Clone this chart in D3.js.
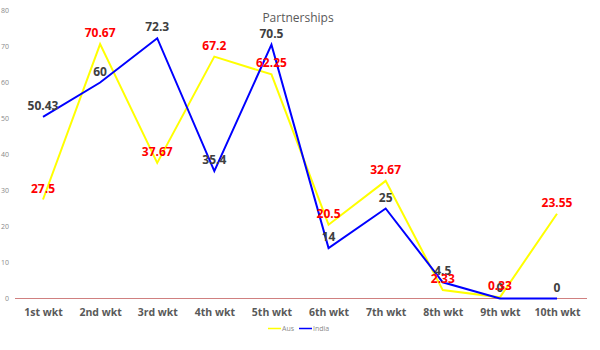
<!DOCTYPE html>
<html><head><meta charset="utf-8">
<script src="https://cdn.jsdelivr.net/npm/d3@7"></script>
<style>body{margin:0;background:#fff}svg{display:block}</style>
</head><body><svg id="c" width="600" height="350"></svg>
<script>
const categories = ["1st wkt","2nd wkt","3rd wkt","4th wkt","5th wkt","6th wkt","7th wkt","8th wkt","9th wkt","10th wkt"];
const ausValues = [27.5,70.67,37.67,67.2,62.25,20.5,32.67,2.33,0.33,23.55];
const indiaValues = [50.43,60,72.3,35.4,70.5,14,25,4.5,0,0];
const yTicks = [0,10,20,30,40,50,60,70,80];
const seriesNames = ["Aus","India"];

const svg = d3.select("#c");
const font = "'Open Sans', 'Noto Sans', sans-serif";
const x = d3.scalePoint().domain(categories).range([43, 557]);
const y = d3.scaleLinear().domain([0, 80]).range([298.5, 10.5]);

svg.append("text").attr("x", 298).attr("y", 22).attr("text-anchor", "middle")
  .attr("font-family", font).attr("font-size", 12).attr("fill", "#595959").text("Partnerships");

// y tick labels
const yAxis = d3.axisLeft(y).tickValues(yTicks).tickSize(0).tickPadding(0);
const ga = svg.append("g").attr("transform", "translate(9,0)").call(yAxis);
ga.select(".domain").remove();
ga.selectAll("text").attr("font-family", font).attr("font-size", 7).attr("fill", "#8a8a8a");

// x axis line
svg.append("line").attr("x1", 15).attr("x2", 587).attr("y1", y(0)).attr("y2", y(0))
  .attr("stroke", "#d08080").attr("stroke-width", 1);

const xAxis = d3.axisBottom(x).tickSize(0).tickPadding(0);
const gx = svg.append("g").attr("transform", "translate(0,309)").call(xAxis);
gx.select(".domain").remove();
gx.selectAll("text").attr("font-family", font).attr("font-size", 10.5).attr("font-weight", "bold").attr("fill", "#595959");

const line = d3.line().x((d, i) => x(categories[i])).y(d => y(d));
svg.append("path").datum(ausValues).attr("d", line).attr("fill", "none").attr("stroke", "#ffff00").attr("stroke-width", 2);
svg.append("path").datum(indiaValues).attr("d", line).attr("fill", "none").attr("stroke", "#0000ff").attr("stroke-width", 2);

function labels(vals, color) {
  svg.append("g").selectAll("text").data(vals).join("text")
    .attr("x", (d, i) => x(categories[i])).attr("y", d => y(d) - 7)
    .attr("text-anchor", "middle").attr("font-family", font).attr("font-size", 12)
    .attr("font-weight", "bold").attr("fill", color).text(d => d);
}
labels(indiaValues, "#404040");
labels(ausValues, "#ff0000");

// legend
const leg = [{name: seriesNames[0], color: "#ffff00", x: 268}, {name: seriesNames[1], color: "#0000ff", x: 299}];
leg.forEach(l => {
  svg.append("line").attr("x1", l.x).attr("x2", l.x + 13).attr("y1", 328.5).attr("y2", 328.5)
    .attr("stroke", l.color).attr("stroke-width", 1.5);
  svg.append("text").attr("x", l.x + 14).attr("y", 331).attr("font-family", font).attr("font-size", 7)
    .attr("fill", "#8a8a8a").text(l.name);
});
</script></body></html>
